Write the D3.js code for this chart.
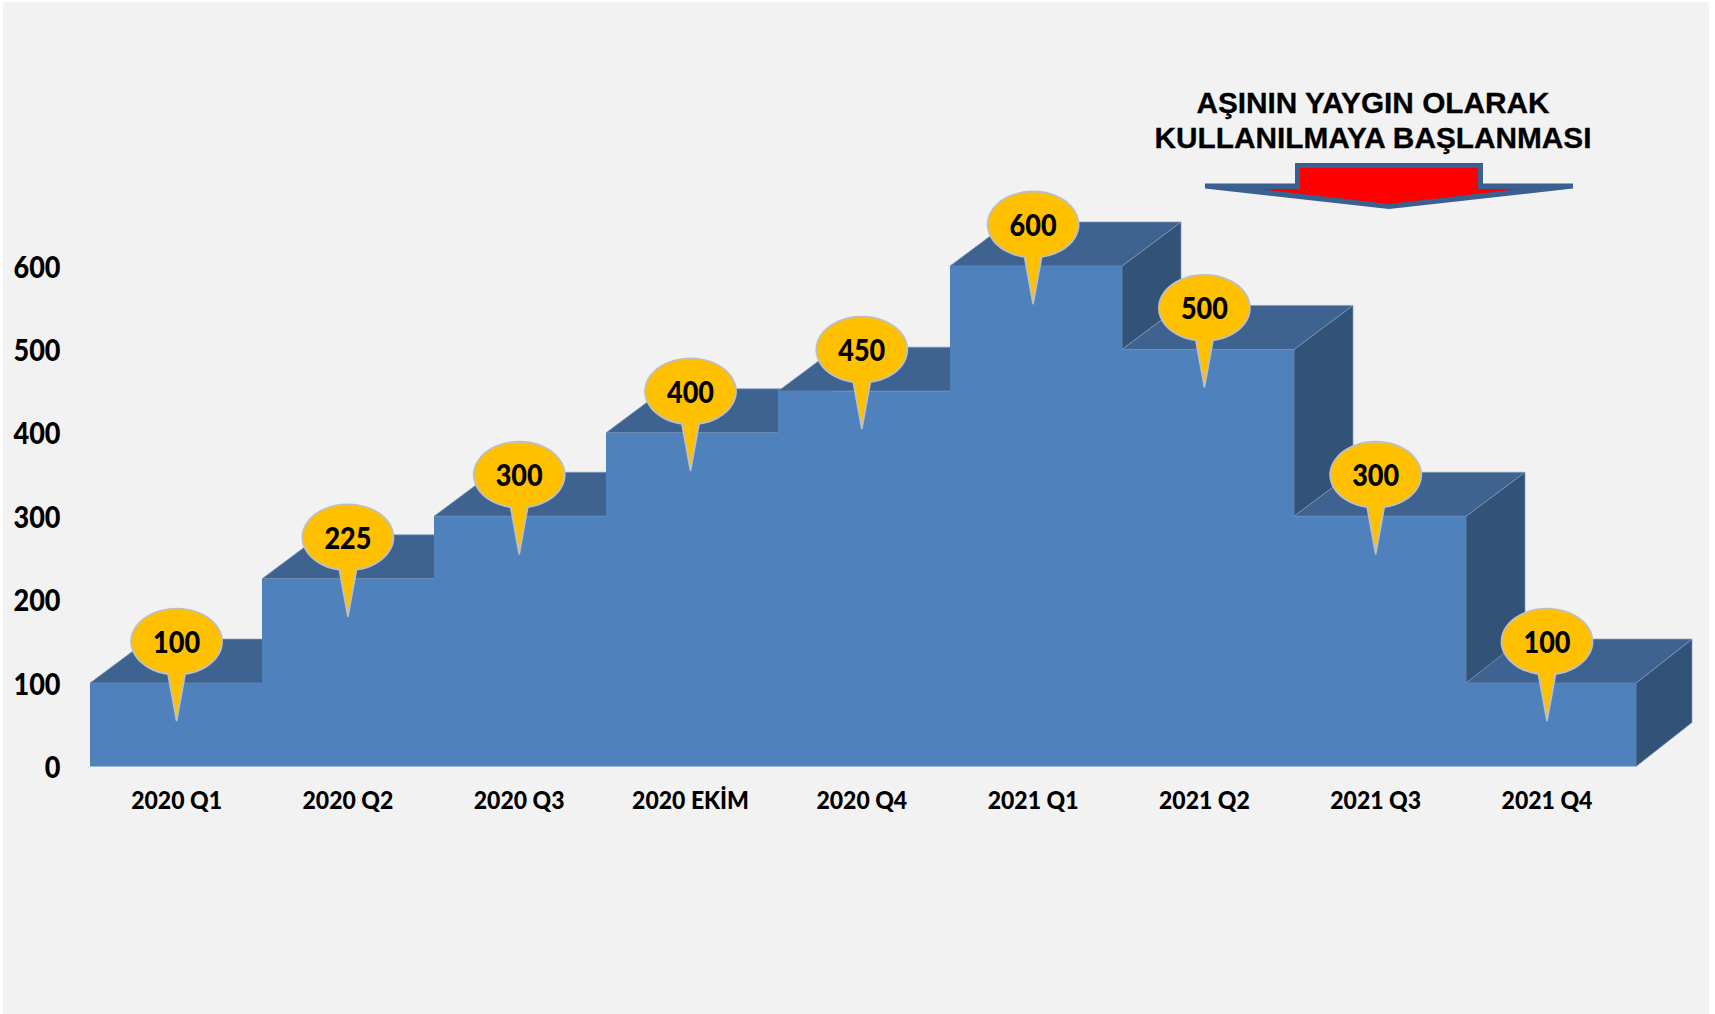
<!DOCTYPE html>
<html><head><meta charset="utf-8">
<style>html,body{margin:0;padding:0;background:#fff}svg{display:block}</style>
<script src="https://cdnjs.cloudflare.com/ajax/libs/d3/7.8.5/d3.min.js"></script>
</head><body><svg id="c" width="1715" height="1014"></svg>
<script>
const categories=["2020 Q1","2020 Q2","2020 Q3","2020 EKİM","2020 Q4","2021 Q1","2021 Q2","2021 Q3","2021 Q4"];
const values=[100,225,300,400,450,600,500,300,100];
const yTicks=[0,100,200,300,400,500,600];
const titleLines=["AŞININ YAYGIN OLARAK","KULLANILMAYA BAŞLANMASI"];

const svg=d3.select("#c");
svg.append("rect").attr("x",3).attr("y",2).attr("width",1706).attr("height",1012).attr("fill","#f2f2f2");
const xs=d3.scaleBand().domain(categories).range([90,1638]);
const xc=d3.scalePoint().domain(categories).range([176.6,1547]);
const ys=d3.scaleLinear().domain([0,600]).range([766.5,266]);
const dy=44,xEnd=1636;
const last=values.length-1;
const depth=i=>i===last?56:59;
const rightOf=i=>Math.min(xs(categories[i])+xs.bandwidth(),xEnd);
const line=d3.line();
const g=svg.append("g");
const frontCol="#4f81bd",topCol="#3f6390",sideCol="#325278",edge="#7f99bb";
values.forEach((v,i)=>{
  const next=i<last?values[i+1]:0,dx=depth(i);
  if(next<v){
    const x1=rightOf(i);
    g.append("path").attr("fill",sideCol).attr("stroke",edge).attr("stroke-width",0.7).attr("d",line([[x1,ys(v)],[x1+dx,ys(v)-dy],[x1+dx,ys(next)-dy],[x1,ys(next)]])+"Z");
  }
});
values.forEach((v,i)=>{
  const x0=xs(categories[i]),x1=rightOf(i),dx=depth(i);
  g.append("path").attr("fill",topCol).attr("stroke",edge).attr("stroke-width",0.7).attr("d",line([[x0,ys(v)],[x0+dx,ys(v)-dy],[x1+dx,ys(v)-dy],[x1,ys(v)]])+"Z");
});
const frontArea=d3.area().x0(d=>d[0]).y0(ys(0)).y1(d=>d[1]);
const pts=[];
values.forEach((v,i)=>{pts.push([xs(categories[i]),ys(v)]);pts.push([rightOf(i),ys(v)]);});
g.append("path").attr("fill",frontCol).attr("d",frontArea(pts));

const fontB="Lato, 'Noto Sans', sans-serif";
function squeeze(sel,k){sel.each(function(){
  const n=this.getComputedTextLength();
  d3.select(this).attr("textLength",n*k).attr("lengthAdjust","spacingAndGlyphs");
});}
svg.append("g").selectAll("text").data(yTicks).join("text")
 .attr("x",60.5).attr("y",d=>ys(d)+11.5).attr("text-anchor","end")
 .attr("font-family",fontB).attr("font-weight",900).attr("font-size",30).attr("fill","#000").text(d=>d).call(squeeze,0.9);
svg.append("g").selectAll("text").data(categories).join("text")
 .attr("x",d=>xc(d)).attr("y",808.5).attr("text-anchor","middle")
 .attr("font-family",fontB).attr("font-weight",900).attr("font-size",25).attr("fill","#000").text(d=>d).call(squeeze,0.92);
const b=svg.append("g");
values.forEach((v,i)=>{
  const cx=xc(categories[i]),yv=ys(v),cy=yv-41.5,rx=45.5,ry=33,hw=8.5;
  const by=cy+ry*Math.sqrt(1-(hw/rx)*(hw/rx));
  const tip=yv+37.5;
  const d=`M${cx-hw},${by} A${rx},${ry} 0 1 1 ${cx+hw},${by} L${cx},${tip} Z`;
  b.append("path").attr("d",d).attr("fill","#ffc000").attr("stroke","#bfbfbf").attr("stroke-width",1.8).attr("stroke-linejoin","round");
  b.append("text").attr("x",cx).attr("y",cy+11.5).attr("text-anchor","middle")
   .attr("font-family",fontB).attr("font-weight",900).attr("font-size",30).attr("fill","#000").text(v).call(squeeze,0.9);
});
svg.append("g").selectAll("text").data(titleLines).join("text")
 .attr("x",1373).attr("y",(d,i)=>113+i*35).attr("text-anchor","middle")
 .attr("font-family","'Liberation Sans',Arial,sans-serif").attr("font-weight",700).attr("font-size",29.8)
 .attr("stroke","#000").attr("stroke-width",0.3).attr("fill","#000").text(d=>d);
svg.append("path").attr("fill","#3b5f8f").attr("d",line([[1295,163],[1483,163],[1483,183.5],[1573,183.5],[1573,188.5],[1389,209],[1205,188.5],[1205,183.5],[1295,183.5]])+"Z");
svg.append("path").attr("fill","#ff0000").attr("d",line([[1300,168],[1478,168],[1478,189],[1519,189],[1389,204],[1259,189],[1300,189]])+"Z");
</script></body></html>
